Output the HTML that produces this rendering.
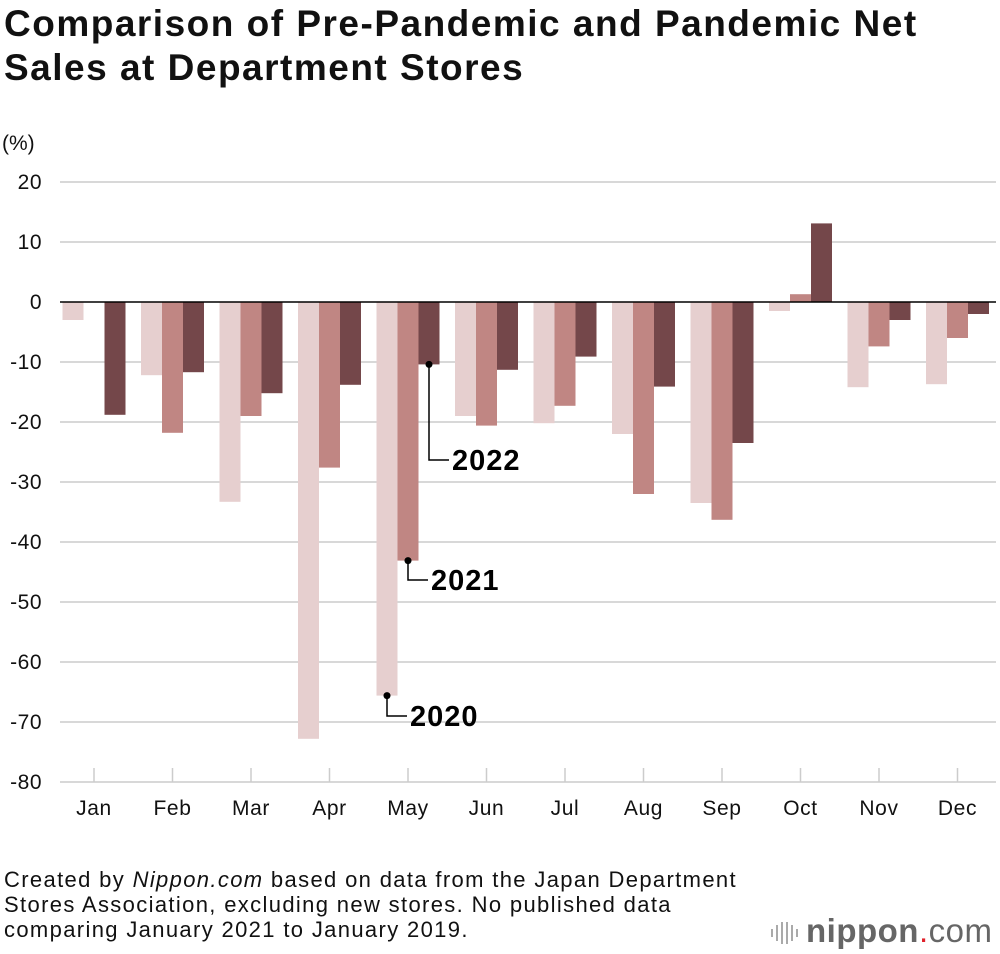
<!DOCTYPE html>
<html><head><meta charset="utf-8"><style>
body{margin:0;background:#fff;font-family:"Liberation Sans",sans-serif;}
#wrap{position:relative;width:1000px;height:954px;overflow:hidden}
h1{position:absolute;left:4px;top:2px;margin:0;font-size:37px;line-height:44px;font-weight:bold;color:#111;letter-spacing:1.5px}
.note{position:absolute;left:4px;top:867px;font-size:22px;line-height:25px;color:#111;letter-spacing:1.35px}
.logo{position:absolute;left:806px;top:912px;font-size:33px;color:#666;letter-spacing:0.5px}
</style></head><body>
<div id="wrap">
<h1>Comparison of Pre-Pandemic and Pandemic Net<br>Sales at Department Stores</h1>
<svg id="chart" width="1000" height="954" style="position:absolute;left:0;top:0"></svg>
<div class="note">Created by <i>Nippon.com</i> based on data from the Japan Department<br>Stores Association, excluding new stores. No published data<br>comparing January 2021 to January 2019.</div>
<div class="logo"><b style="color:#666">nippon</b><span style="color:#e0202a">.</span>com</div>
<svg style="position:absolute;left:770px;top:920px" width="32" height="26">
<g stroke="#aaa" stroke-width="2"><line x1="2" y1="9" x2="2" y2="17"/><line x1="7" y1="5" x2="7" y2="21"/><line x1="12" y1="2" x2="12" y2="24"/><line x1="17" y1="2" x2="17" y2="24"/><line x1="22" y1="5" x2="22" y2="21"/><line x1="27" y1="9" x2="27" y2="17"/></g></svg>
</div>
<script>
const months=["Jan","Feb","Mar","Apr","May","Jun","Jul","Aug","Sep","Oct","Nov","Dec"];
const y2020=[-3,-12.2,-33.3,-72.8,-65.6,-19,-20.2,-22,-33.5,-1.5,-14.2,-13.7];
const y2021=[null,-21.8,-19,-27.6,-43.1,-20.6,-17.3,-32,-36.3,1.3,-7.4,-6];
const y2022=[-18.8,-11.7,-15.2,-13.8,-10.4,-11.3,-9.1,-14.1,-23.5,13.1,-3,-2];
const ticks=[20,10,0,-10,-20,-30,-40,-50,-60,-70,-80];
const NS="http://www.w3.org/2000/svg";
const svg=document.getElementById('chart');
const Y=v=>302-v*6;
const X=i=>94+i*78.5;
const BW=21;
function mk(t,a){const e=document.createElementNS(NS,t);for(const k in a)e.setAttribute(k,a[k]);svg.appendChild(e);return e;}
const yl=mk('text',{x:2,y:150,'font-size':21,fill:'#111'});yl.textContent='(%)';


ticks.forEach(t=>{
 if(t!==0){const g=mk('line',{x1:60,x2:996,y1:Y(t),y2:Y(t),stroke:'#ccc','stroke-width':1.5});
 
 }
 const tx=mk('text',{x:42,y:Y(t)+7,'font-size':21,fill:'#111','text-anchor':'end','letter-spacing':0.5});tx.textContent=t;
 
 
});
const series=[[y2020,'#e6cfcf',-1],[y2021,'#c08683',0],[y2022,'#74474a',1]];
series.forEach(([vals,col,off],si)=>{
 vals.forEach((v,i)=>{
  if(v===null)return;
  const x=X(i)+off*BW-BW/2;
  const r=mk('rect',{x:x,y:Math.min(Y(v),Y(0)),width:BW,height:Math.abs(Y(v)-Y(0)),fill:col});
  
  
 });
});
const z=mk('line',{x1:60,x2:996,y1:Y(0),y2:Y(0),stroke:'#000','stroke-width':1.5});


months.forEach((m,i)=>{
 const tk=mk('line',{x1:X(i),x2:X(i),y1:Y(-80)-14,y2:Y(-80),stroke:'#ccc','stroke-width':1.5});
 
 
 const t=mk('text',{x:X(i),y:815,'font-size':21,fill:'#111','text-anchor':'middle','letter-spacing':0.6});t.textContent=m;
 
 
});
const ann=[[y2022,1,'2022',460],[y2021,0,'2021',580],[y2020,-1,'2020',716]];
ann.forEach(([vals,off,lab,ly])=>{
 const cx=X(4)+off*BW;const cy=Y(vals[4]);
 const p=mk('path',{d:`M${cx},${cy}V${ly}H${cx+20}`,stroke:'#000','stroke-width':1.5,fill:'none'});
 
 
 const c=mk('circle',{cx:cx,cy:cy,r:3.5,fill:'#000'});
 
 
 const t=mk('text',{x:cx+23,y:ly+10,'font-size':29,'font-weight':'bold',fill:'#000','letter-spacing':1});t.textContent=lab;
 
 
});
</script>
</body></html>
